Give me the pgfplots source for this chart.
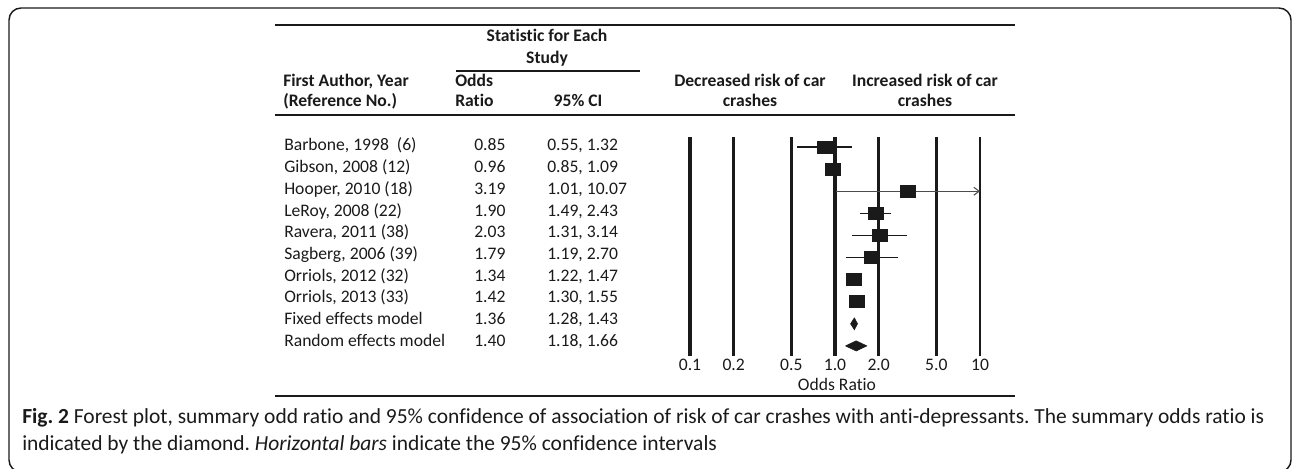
\documentclass[border=0pt]{standalone}
\usepackage{pgfplots}
\pgfplotsset{compat=1.18}
\usepackage{pgfplotstable}
\usepackage{fontspec}
\setmainfont{Carlito}[Ligatures=NoCommon]
\usetikzlibrary{arrows.meta}
\frenchspacing

\pgfplotstableread{
y or lo hi
1 0.85 0.55 1.32
2 0.96 0.85 1.09
3 3.19 1.01 10.07
4 1.90 1.49 2.43
5 2.03 1.31 3.14
6 1.79 1.19 2.70
7 1.34 1.22 1.47
8 1.42 1.30 1.55
}\studies

\pgfplotstableread{
x y
0.55 1
1.32 1
nan nan
0.85 2
1.09 2
nan nan
1.49 4
2.43 4
nan nan
1.31 5
3.14 5
nan nan
1.19 6
2.70 6
nan nan
1.22 7
1.47 7
nan nan
1.30 8
1.55 8
}\cis

\definecolor{ink}{HTML}{1A1A1A}

\begin{document}
\begin{tikzpicture}[x=0.75pt,y=-0.75pt,font=\fontsize{13.2}{15}\selectfont,color=ink]
\useasboundingbox (0,0) rectangle (1292,468);
% frame
\draw[line width=1.1pt,rounded corners=9pt] (9,8) rectangle (1291,472);

% rules
\draw[line width=1.2pt] (275,25) -- (1015,25);
\draw[line width=1.2pt] (456,71) -- (640,71);
\draw[line width=1.2pt] (275,115) -- (1015,115);
\draw[line width=1.2pt] (275,396) -- (1015,396);

% headers
\begin{scope}[every node/.style={inner sep=0pt,text height=1.5ex,text depth=.25ex,font=\fontsize{13.2}{15}\selectfont\bfseries}]
\node at (547,38) {Statistic for Each};
\node at (547,60) {Study};
\node[anchor=west] at (283,83) {First Author, Year};
\node[anchor=west] at (283,103) {(Reference No.)};
\node[anchor=west] at (455,83) {Odds};
\node[anchor=west] at (455,103) {Ratio};
\node at (578,103) {95\% CI};
\node at (750,83) {Decreased risk of car};
\node at (750,103) {crashes};
\node at (925,83) {Increased risk of car};
\node at (925,103) {crashes};
\end{scope}

% table body
\begin{scope}[every node/.style={inner sep=0pt,text height=1.5ex,text depth=.25ex,anchor=west}]
\foreach \name/\o/\c [count=\i from 0] in {
  {Barbone, 1998\ \ (6)}/0.85/{0.55, 1.32},
  {Gibson, 2008 (12)}/0.96/{0.85, 1.09},
  {Hooper, 2010 (18)}/3.19/{1.01, 10.07},
  {LeRoy, 2008 (22)}/1.90/{1.49, 2.43},
  {Ravera, 2011 (38)}/2.03/{1.31, 3.14},
  {Sagberg, 2006 (39)}/1.79/{1.19, 2.70},
  {Orriols, 2012 (32)}/1.34/{1.22, 1.47},
  {Orriols, 2013 (33)}/1.42/{1.30, 1.55},
  {Fixed effects model}/1.36/{1.28, 1.43},
  {Random effects model}/1.40/{1.18, 1.66}} {
  \node at (284,147+21.7*\i) {\name};
  \node at (474,147+21.7*\i) {\o};
  \node at (547,147+21.7*\i) {\c};
}
\end{scope}

\coordinate (A) at (690,135.95);
\begin{axis}[
  at={(A)}, anchor=north west,
  width=217.5pt, height=165.75pt, scale only axis,
  xmode=log, xmin=0.1, xmax=10,
  ymin=0.5, ymax=10.5, y dir=reverse,
  clip=false,
  axis line style={draw=none},
  major tick length=0pt,
  ytick=\empty,
  xtick={0.1,0.2,0.5,1,2,5,10},
  xticklabels={0.1,0.2,0.5,1.0,2.0,5.0,10},
  xticklabel style={font=\fontsize{13.2}{15}\selectfont,inner sep=0pt,text height=1.5ex,text depth=.25ex,anchor=center,yshift=-7.4pt},
  /pgf/number format/assume math mode=true,
]
% vertical reference lines
\addplot[ink,line width=2.6pt] coordinates {(0.1,0.547) (0.1,10.46)};
\addplot[ink,line width=2.6pt] coordinates {(0.2,0.547) (0.2,10.46)};
\addplot[ink,line width=2.6pt] coordinates {(0.5,0.547) (0.5,10.46)};
\addplot[ink,line width=2.6pt] coordinates {(1,0.547) (1,10.46)};
\addplot[ink,line width=2.6pt] coordinates {(2,0.547) (2,10.46)};
\addplot[ink,line width=2.6pt] coordinates {(5,0.547) (5,10.46)};
\addplot[ink,line width=1.4pt] coordinates {(10,0.547) (10,10.46)};
% confidence intervals
\addplot[ink,line width=1.1pt,unbounded coords=jump] table[x=x,y=y] {\cis};
\addplot[black!70,line width=0.8pt,-{Straight Barb[length=4pt,width=6pt]}] coordinates {(1.01,3) (10,3)};
% study squares
\addplot[only marks,mark=square*,mark size=4.5pt,mark options={ink,fill=ink,xscale=1.25}] table[x=or,y=y] {\studies};
% summary diamonds
\addplot[ink,fill=ink,line width=0.4pt] coordinates {(1.28,9) (1.36,8.73) (1.43,9) (1.36,9.27) (1.28,9)};
\addplot[ink,fill=ink,line width=0.4pt] coordinates {(1.18,10) (1.40,9.77) (1.66,10) (1.40,10.23) (1.18,10)};
\end{axis}

\node[inner sep=0pt,text height=1.5ex,text depth=.25ex] at (837,387) {Odds Ratio};

% caption
\begin{scope}[every node/.style={inner sep=0pt,anchor=base west,font=\fontsize{16.1}{18}\selectfont}]
\node at (22,423) {\textbf{Fig.\ 2} Forest plot, summary odd ratio and 95\% confidence of association of risk of car crashes with anti-depressants. The summary odds ratio is};
\node at (22,450) {indicated by the diamond. \textit{Horizontal bars} indicate the 95\% confidence intervals};
\end{scope}
\end{tikzpicture}
\end{document}
